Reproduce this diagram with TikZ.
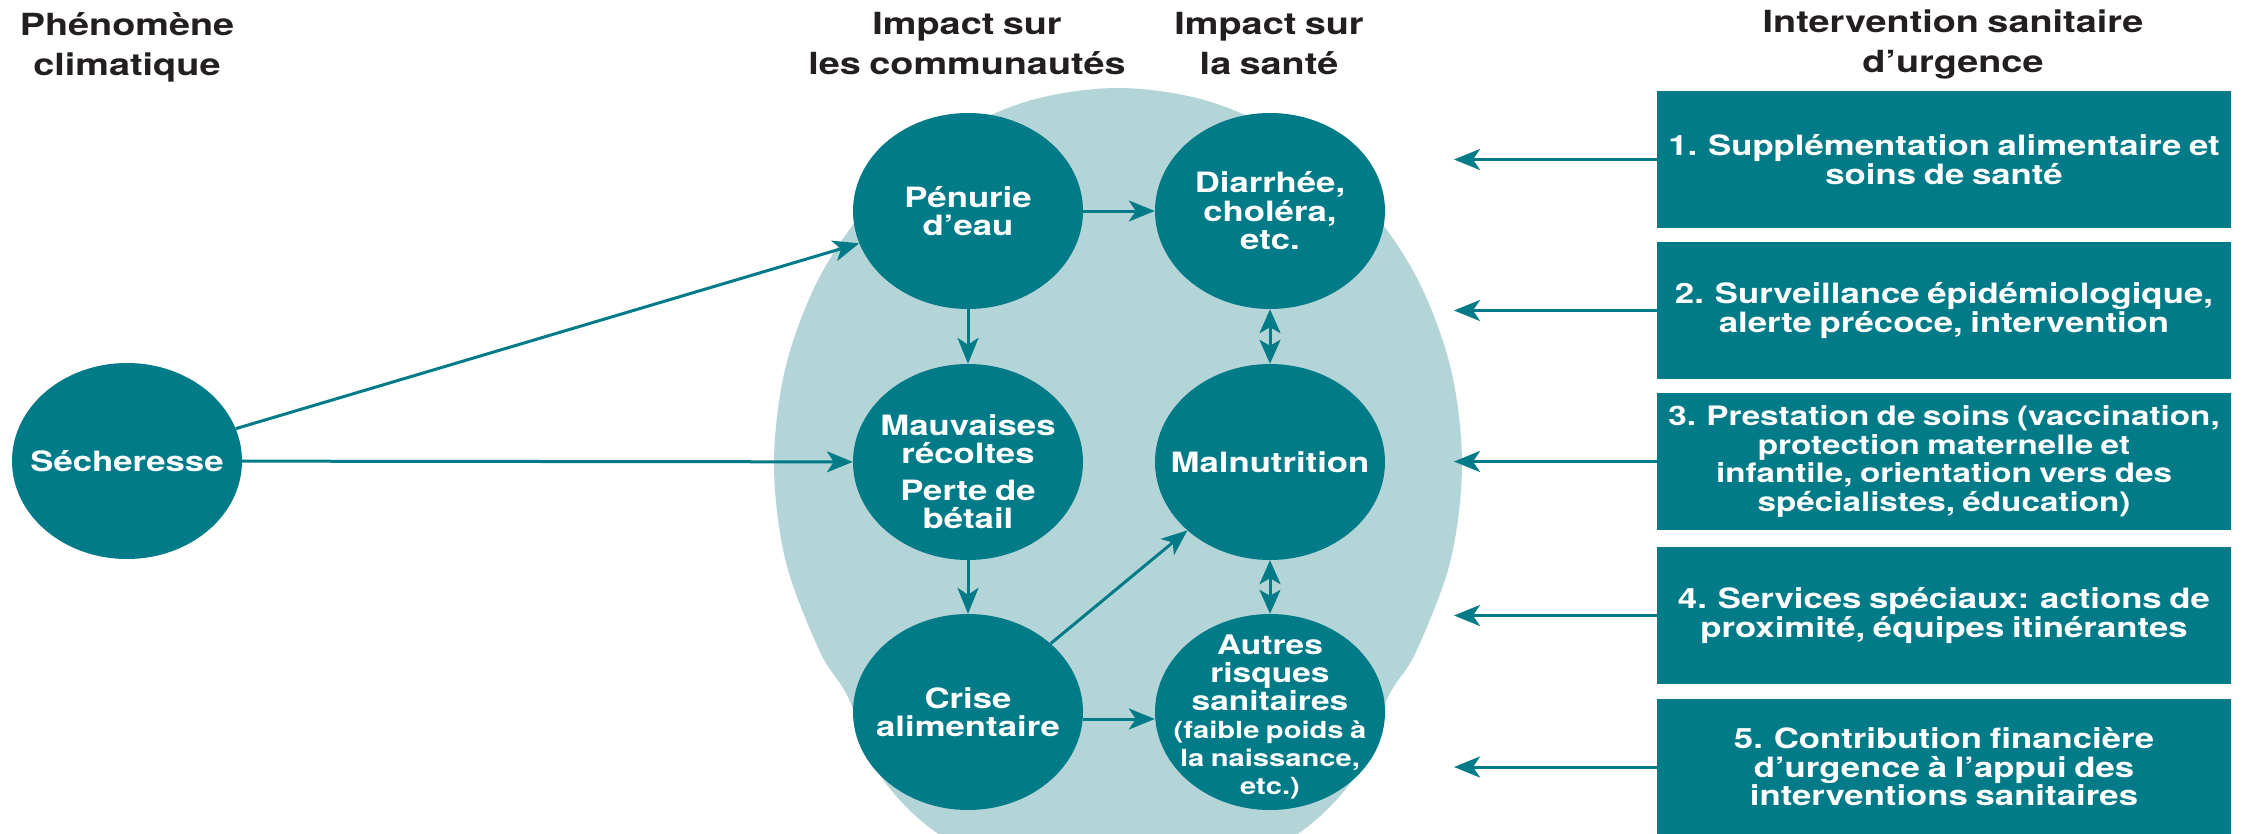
\documentclass[tikz,border=0pt]{standalone}
\usepackage{fontspec}
\setmainfont{TeX Gyre Heros}[FakeStretch=1.24, WordSpace=0.8]
\usetikzlibrary{arrows.meta,shapes.geometric}
\definecolor{tealA}{HTML}{007B87}
\definecolor{tealL}{HTML}{B4D5D8}
\definecolor{hdrcol}{HTML}{231F20}
\begin{document}
\begin{tikzpicture}[x=1pt,y=-1pt,
  bubble/.style={ellipse, fill=tealA, text=white, minimum width=230pt, minimum height=196pt, inner sep=-45pt, align=center, font=\bfseries\fontsize{28}{28.5}\selectfont},
  ibox/.style={rectangle, fill=tealA, text=white, minimum width=574pt, minimum height=137pt, inner sep=0pt, align=center, font=\bfseries\fontsize{28}{28.5}\selectfont},
  hdr/.style={text=hdrcol, align=center, anchor=base, inner sep=0pt, font=\bfseries\fontsize{30.5}{40}\selectfont},
  conn/.style={draw=tealA, line width=3pt, -{Stealth[length=26pt,width=21pt,inset=7pt]}},
  dconn/.style={draw=tealA, line width=3pt, {Stealth[length=24pt,width=21pt,inset=6pt]}-{Stealth[length=24pt,width=21pt,inset=6pt]}},
]
\useasboundingbox (0,0) rectangle (2248,833);
\clip (0,0) rectangle (2248,833);
\fill[white] (0,0) rectangle (2248,833);
% light background shape
\fill[tealL] plot[smooth cycle, tension=0.55] coordinates {(1462,464) (1450.3,366.7) (1415.9,276) (1361.2,198.1) (1290,138.4) (1207,100.8) (1118,88) (1029,100.8) (946,138.4) (874.8,198.1) (820.1,276) (785.7,366.7) (774,464) (785.7,561.3) (820.1,652) (848,697) (880,775) (937,833) (1020,872) (1118,888) (1216,872) (1299,833) (1356,775) (1388,697) (1415.9,652) (1450.3,561.3)};

% headers (anchor = baseline of the last line)
\node[hdr] (h1) at (127,75) {Phénomène\\climatique};
\node[hdr] (h2) at (967,74) {Impact sur\\les communautés};
\node[hdr] (h3) at (1269,74) {Impact sur\\la santé};
\node[hdr] (h4) at (1953,72) {Intervention sanitaire\\d’urgence};

% bubbles
\node[bubble] (sech) at (127,461) {Sécheresse};
\node[bubble] (pen) at (968,211) {Pénurie\\d’eau};
\node[bubble] (mauv) at (968,462) {\rule{0pt}{40pt}Mauvaises\\récoltes\\[8pt]Perte de\\bétail};
\node[bubble] (crise) at (968,712) {Crise\\alimentaire};
\node[bubble] (diar) at (1270,211) {Diarrhée,\\choléra,\\etc.};
\node[bubble] (maln) at (1270,462) {Malnutrition};
\node[bubble, font=\bfseries\fontsize{23.5}{28}\selectfont] (autr) at (1270,712) {\rule{0pt}{29pt}{\fontsize{27}{28}\selectfont Autres}\\{\fontsize{27}{28}\selectfont risques}\\{\fontsize{27}{28}\selectfont sanitaires}\\(faible poids à\\la naissance,\\etc.)};

% boxes
\node[ibox] (b1) at (1944,159.5) {1. Supplémentation alimentaire et\\soins de santé};
\node[ibox] (b2) at (1944,310.5) {2. Surveillance épidémiologique,\\alerte précoce, intervention};
\node[ibox, font=\bfseries\fontsize{26.8}{28.5}\selectfont] (b3) at (1944,461.5) {3. Prestation de soins (vaccination,\\protection maternelle et\\infantile, orientation vers des\\spécialistes, éducation)};
\node[ibox] (b4) at (1944,615.5) {4. Services spéciaux: actions de\\proximité, équipes itinérantes};
\node[ibox] (b5) at (1944,767) {5. Contribution financière\\d’urgence à l’appui des\\interventions sanitaires};

\coordinate (t1) at (1454,159.5);
\coordinate (t2) at (1454,310.5);
\coordinate (t3) at (1454,461.5);
\coordinate (t4) at (1454,615.5);
\coordinate (t5) at (1454,767);

% connectors
\draw[conn] (sech) -- (pen);
\draw[conn] (sech) -- (mauv);
\draw[conn] (pen) -- (diar);
\draw[conn] (pen) -- (mauv);
\draw[conn] (mauv) -- (crise);
\draw[conn] (crise) -- (maln);
\draw[conn] ([yshift=-7pt]crise.east) -- ([yshift=-7pt]autr.west);
\draw[dconn] (diar) -- (maln);
\draw[dconn] (maln) -- (autr);
\draw[conn] (b1) -- (t1);
\draw[conn] (b2) -- (t2);
\draw[conn] (b3) -- (t3);
\draw[conn] (b4) -- (t4);
\draw[conn] (b5) -- (t5);
\end{tikzpicture}
\end{document}
